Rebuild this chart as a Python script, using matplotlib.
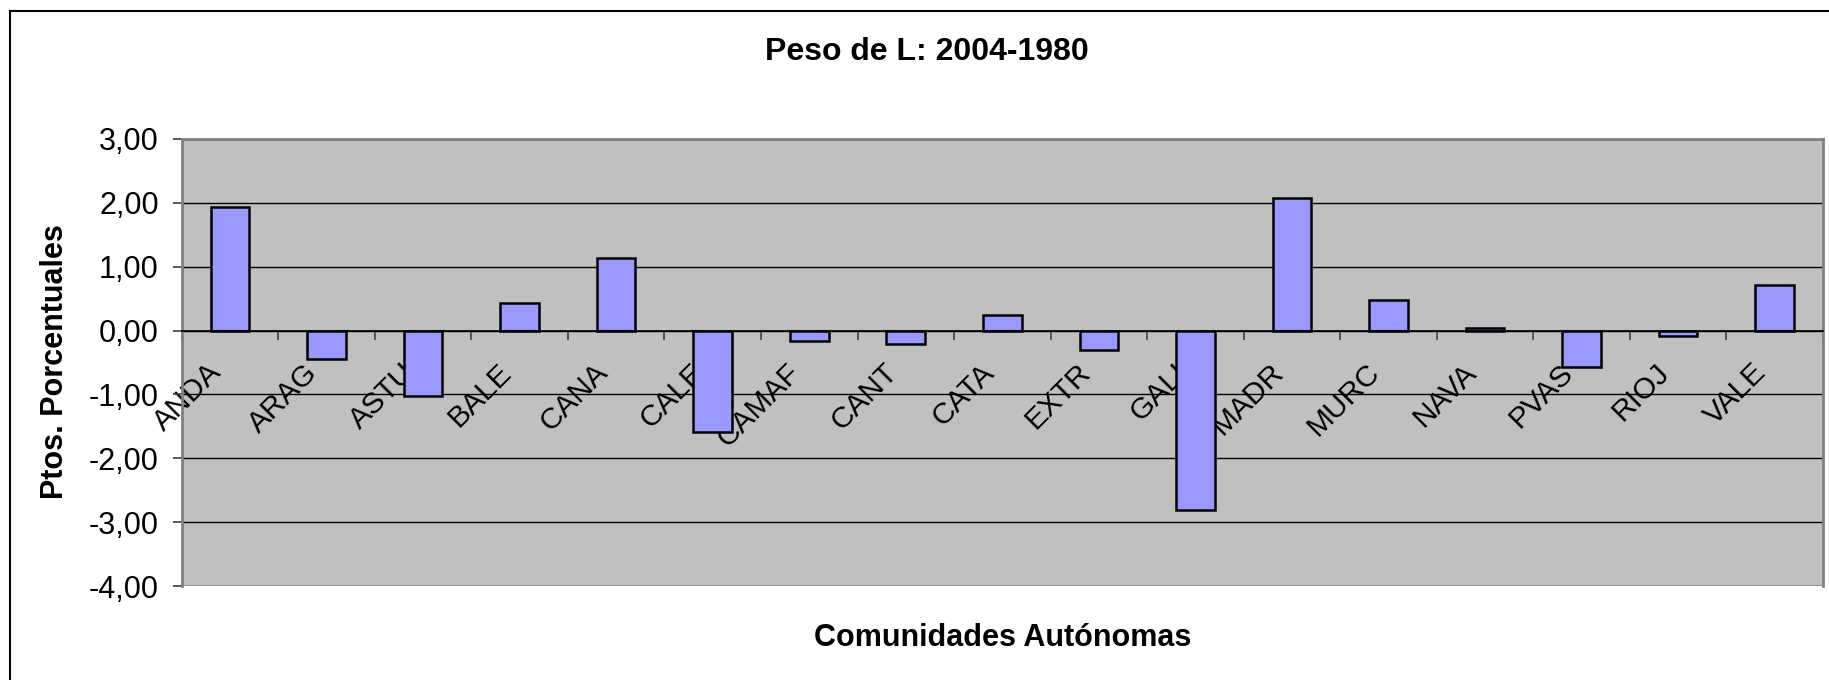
import matplotlib
matplotlib.use("Agg")
import matplotlib.pyplot as plt
from matplotlib.lines import Line2D
from matplotlib.transforms import ScaledTranslation
import numpy as np

plt.rcParams['font.family'] = ['Liberation Sans', 'DejaVu Sans']

categories = ["ANDA", "ARAG", "ASTU", "BALE", "CANA", "CALE", "CAMAF", "CANT", "CATA",
              "EXTR", "GALI", "MADR", "MURC", "NAVA", "PVAS", "RIOJ", "VALE"]
values = [1.94, -0.44, -1.03, 0.43, 1.14, -1.59, -0.16, -0.21, 0.24,
          -0.31, -2.81, 2.08, 0.48, 0.04, -0.57, -0.09, 0.71]
yticks = [3, 2, 1, 0, -1, -2, -3, -4]
ytick_labels = ["3,00", "2,00", "1,00", "0,00", "-1,00", "-2,00", "-3,00", "-4,00"]
title = "Peso de L: 2004-1980"
xlabel = "Comunidades Autónomas"
ylabel = "Ptos. Porcentuales"

W, H = 1829, 680
fig = plt.figure(figsize=(W / 100, H / 100), dpi=100)
fig.patch.set_facecolor("white")

left, right, top, bottom = 181.7, 1823, 139, 586
ax = fig.add_axes([left / W, 1 - bottom / H, (right - left) / W, (bottom - top) / H])
ax.set_facecolor("#C0C0C0")

n = len(categories)
x = np.arange(n)
ax.bar(x, values, width=0.4, color="#9999FF", edgecolor="black", linewidth=1.8, zorder=3)

ax.set_xlim(-0.5, n - 0.5)
ax.set_ylim(-4, 3)

# gridlines
ax.set_yticks(yticks)
ax.set_yticklabels(ytick_labels, fontsize=22)
ax.yaxis.grid(True, color="black", linewidth=1.0, zorder=1)
ax.set_axisbelow(True)
ax.tick_params(axis="y", direction="out", length=6.5, width=1.2, color="#404040", pad=10)

# x axis at zero
ax.spines["bottom"].set_position(("data", 0))
ax.spines["bottom"].set_color("black")
ax.spines["bottom"].set_linewidth(1.2)
ax.spines["bottom"].set_zorder(4)
for s in ["top", "right", "left"]:
    ax.spines[s].set_color("#808080")
    ax.spines[s].set_linewidth(2)

ax.set_xticks(np.arange(n + 1) - 0.5)
ax.set_xticklabels([])
ax.tick_params(axis="x", which="major", direction="out", length=6.5, width=1.2, color="#404040")
ax.set_xticks(x, minor=True)
ax.set_xticklabels(categories, minor=True, rotation=45, ha="right", va="center",
                   rotation_mode="anchor", fontsize=21.5)
ax.tick_params(axis="x", which="minor", length=0, pad=27)
off = ScaledTranslation(-13 / 100, 0, fig.dpi_scale_trans)
for lab in ax.get_xticklabels(minor=True):
    lab.set_transform(lab.get_transform() + off)

fig.text(927 / W, 1 - 52 / H, title, ha="center", va="center", fontsize=23, fontweight="bold")
fig.text(1003 / W, 1 - 638 / H, xlabel, ha="center", va="center", fontsize=22, fontweight="bold")
fig.text(55 / W, 1 - 362 / H, ylabel, ha="center", va="center", rotation=90,
         fontsize=22, fontweight="bold")

# chart border
fig.add_artist(Line2D([10 / W, 10 / W], [0, 1 - 11 / H], color="black", linewidth=1.5,
                      transform=fig.transFigure))
fig.add_artist(Line2D([10 / W, 1], [1 - 11 / H, 1 - 11 / H], color="black", linewidth=1.5,
                      transform=fig.transFigure))

fig.savefig("out.png", dpi=100)
